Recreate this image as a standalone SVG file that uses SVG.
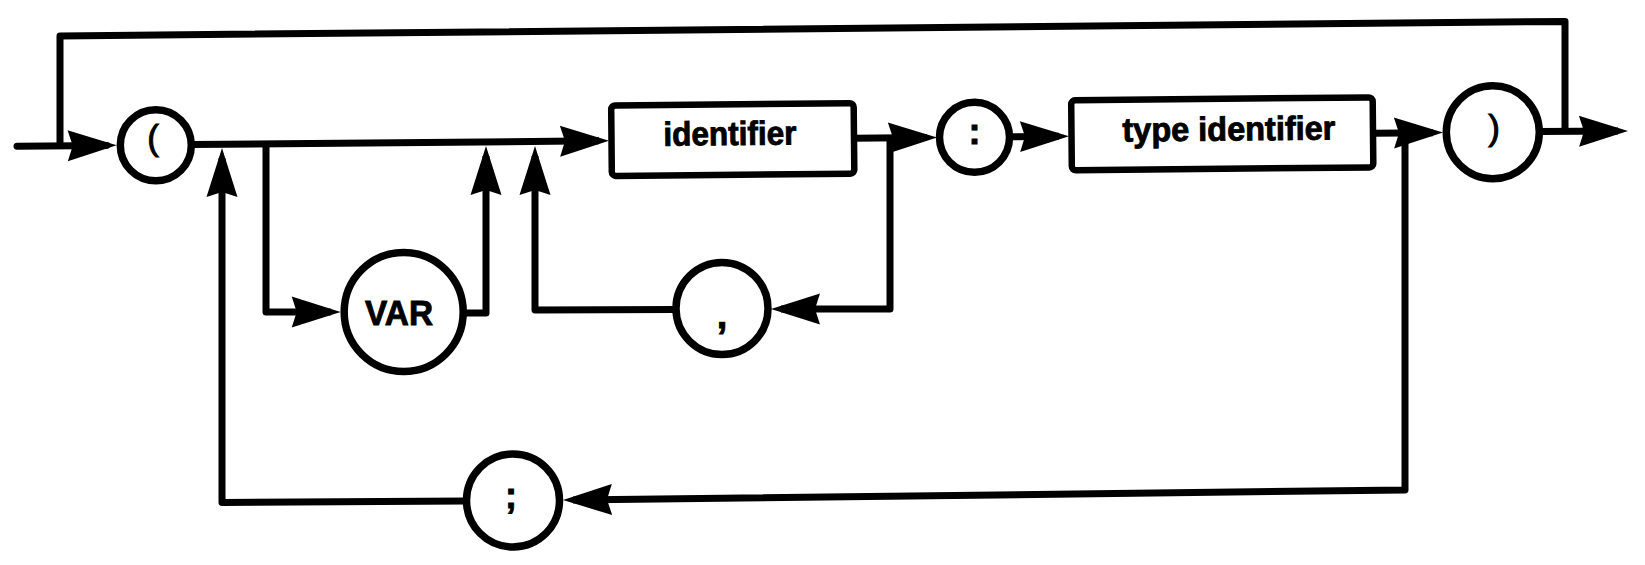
<svg xmlns="http://www.w3.org/2000/svg" width="1645" height="565" viewBox="0 0 1645 565">
  <style>
    .ln { fill: none; stroke: #000; stroke-width: 7; stroke-linejoin: round; }
    .arr { marker-end: url(#ah); }
    .cir { fill: #fff; stroke: #000; stroke-width: 7.5; }
    .box { fill: #fff; stroke: #000; stroke-width: 6.5; }
    .lbl { font-family: "Liberation Sans", Arial, Helvetica, sans-serif; font-weight: bold; fill: #000; stroke: #000; stroke-width: 0.9; text-anchor: middle; }
    .par { font-family: "Liberation Sans", Arial, Helvetica, sans-serif; font-weight: normal; fill: #000; stroke: #000; stroke-width: 1; text-anchor: middle; }
  </style>
  <defs>
    <marker id="ah" viewBox="-42 -17 54 34" refX="0" refY="0" markerWidth="54" markerHeight="34" markerUnits="userSpaceOnUse" orient="auto">
      <path d="M10,0 L-39,-15.5 L-34,0 L-39,15.5 Z" fill="#000"/>
    </marker>
  </defs>
  <rect width="1645" height="565" fill="#fff"/>

  <g id="connectors">
    <path class="ln" d="M60,146 L60,36 L1565,21.4 L1565,131.5"/>
    <path class="ln arr" d="M17,146.3 L106.7,145.4" stroke-linecap="round"/>
    <path class="ln arr" d="M192,144.6 L599,140.8"/>
    <path class="ln arr" d="M266,144 L266,312 L330.7,312"/>
    <path class="ln arr" d="M465,313 L486,313 L486,156"/>
    <path class="ln arr" d="M676,309.5 L535,310 L535,156"/>
    <path class="ln arr" d="M854,138.3 L927,137.6"/>
    <path class="ln arr" d="M890,138 L890,309 L781,309"/>
    <path class="ln arr" d="M1011,136.7 L1059,136.3"/>
    <path class="ln arr" d="M1373,133.3 L1433,132.7"/>
    <path class="ln arr" d="M1405,133 L1405,490 L573,500"/>
    <path class="ln arr" d="M466,501 L222,502.5 L222,158"/>
    <path class="ln arr" d="M1540,131.6 L1618,131"/>
  </g>

  <g id="node-lparen">
    <circle class="cir" cx="155.8" cy="145.3" r="35.5"/>
    <text class="par" x="153" y="150" font-size="35">(</text>
  </g>
  <g id="node-var">
    <circle class="cir" cx="403.7" cy="312" r="59.5"/>
    <text class="lbl" x="399" y="325" font-size="35" textLength="68" lengthAdjust="spacingAndGlyphs">VAR</text>
  </g>
  <g id="node-identifier">
    <rect class="box" x="611.5" y="104.3" width="242.5" height="70.5" rx="4" transform="rotate(-0.55 732.75 139.5)"/>
    <text class="lbl" x="730" y="145" font-size="33.5" textLength="133" lengthAdjust="spacingAndGlyphs" transform="rotate(-0.55 730 145)">identifier</text>
  </g>
  <g id="node-comma">
    <circle class="cir" cx="722" cy="308.5" r="46"/>
    <text class="lbl" x="722" y="328" font-size="38">,</text>
  </g>
  <g id="node-colon">
    <circle class="cir" cx="974.5" cy="137.3" r="35"/>
    <text class="lbl" x="974.5" y="144" font-size="36">:</text>
  </g>
  <g id="node-type-identifier">
    <rect class="box" x="1071.5" y="98.8" width="301.5" height="70" rx="4" transform="rotate(-0.55 1222.25 133.8)"/>
    <text class="lbl" x="1229" y="140.5" font-size="33.5" textLength="213" lengthAdjust="spacingAndGlyphs" transform="rotate(-0.55 1229 140.5)">type identifier</text>
  </g>
  <g id="node-rparen">
    <circle class="cir" cx="1492.8" cy="132.3" r="46.5"/>
    <text class="par" x="1494" y="140" font-size="35">)</text>
  </g>
  <g id="node-semicolon">
    <circle class="cir" cx="513" cy="500.5" r="46.5"/>
    <text class="lbl" x="511" y="508" font-size="36">;</text>
  </g>
</svg>
